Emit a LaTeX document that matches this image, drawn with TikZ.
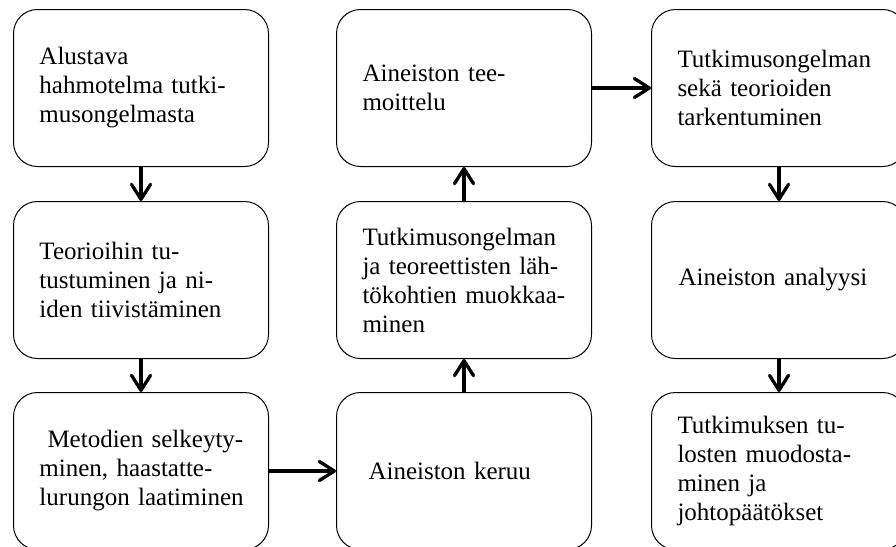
\documentclass[tikz,border=0pt]{standalone}
\usepackage{fontspec}
\setmainfont{Liberation Serif}
\usetikzlibrary{arrows.meta}
\begin{document}
\begin{tikzpicture}[x=1pt,y=-1pt,
  box/.style={draw, line width=1pt, rounded corners=24pt, minimum height=157pt,
    text width=229pt, inner xsep=13pt, inner ysep=0pt,
    font=\fontsize{25}{29}\selectfont,
    execute at begin node={\raggedright\leftskip=13pt\relax},
    anchor=north west},
  arr/.style={line width=3.3pt, -{Straight Barb[length=15pt,width=19pt,line cap=round,line join=round]}}]
\useasboundingbox (0,0) rectangle (896,546);
\clip (0,0) rectangle (896,546);
\fill[white] (0,0) rectangle (896,546);
\node[box] (a1) at (13,9) {Alustava\\hahmotelma tutki-\\musongelmasta};
\node[box] (a2) at (13,201) {Teorioihin tu-\\tustuminen ja ni-\\iden tiivistäminen};
\node[box] (a3) at (13,392) {\hspace*{8pt}Metodien selkeyty-\\minen, haastatte-\\lurungon laatiminen};
\node[box] (b1) at (336,9) {Aineiston tee-\\moittelu};
\node[box] (b2) at (336,201) {Tutkimusongelman\\ja teoreettisten läh-\\tökohtien muokkaa-\\minen};
\node[box] (b3) at (336,392) {\hspace*{6pt}Aineiston keruu};
\node[box] (c1) at (651,9) {Tutkimusongelman\\sekä teorioiden\\tarkentuminen};
\node[box] (c2) at (651,201) {\hspace*{1pt}Aineiston analyysi};
\node[box] (c3) at (651,392) {Tutkimuksen tu-\\losten muodosta-\\minen ja\\johtopäätökset};
\draw[arr] (a1.south) -- (a2.north);
\draw[arr] (a2.south) -- (a3.north);
\draw[arr] (a3.east) -- (b3.west);
\draw[arr] (b3.north) -- (b2.south);
\draw[arr] (b2.north) -- (b1.south);
\draw[arr] (b1.east) -- (c1.west);
\draw[arr] (c1.south) -- (c2.north);
\draw[arr] (c2.south) -- (c3.north);
\end{tikzpicture}
\end{document}
